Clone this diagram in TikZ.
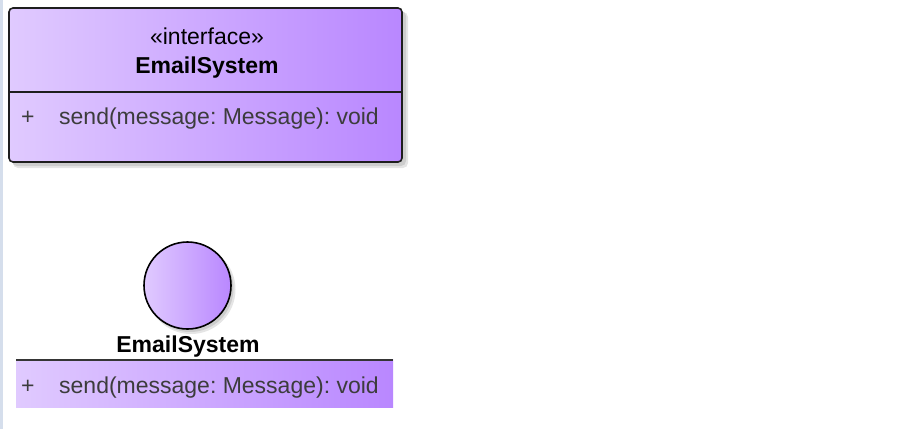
\documentclass[tikz,border=0pt]{standalone}
\usepackage{fontspec}
\setmainfont{Liberation Sans}
\frenchspacing
\definecolor{lavL}{RGB}{224,202,255}
\definecolor{lavR}{RGB}{185,135,255}
\definecolor{stripc}{RGB}{213,222,236}
\definecolor{optext}{RGB}{60,60,60}
\definecolor{edge}{RGB}{30,30,30}
\tikzset{
  lavfill/.style={left color=lavL, right color=lavR},
  txt/.style={inner sep=0pt, anchor=base, font=\fontsize{23}{27}\selectfont},
  optxt/.style={inner sep=0pt, anchor=base west, text=optext, font=\fontsize{23}{27}\selectfont},
  shadowa/.style={fill=black, opacity=0.10},
}
\begin{document}
\begin{tikzpicture}[x=1pt,y=-1pt]
\useasboundingbox (0,0) rectangle (916,429);
\fill[white] (0,0) rectangle (916,429);
\fill[stripc] (0,0) rectangle (3,429);
% class box shadow
\fill[shadowa, rounded corners=5pt] (13,12) rectangle (408,168);
\fill[shadowa, rounded corners=5pt] (12,11) rectangle (406,166);
% class box
\node[draw=edge, line width=1.6pt, rounded corners=4pt, lavfill,
      minimum width=393pt, minimum height=154pt, inner sep=0pt] (box) at (205.5,85) {};
\coordinate (dl) at (9,92);
\coordinate (dr) at (402,92);
\draw[edge, line width=1.6pt] (dl) -- (dr);
\node[txt] (stereo) at (207,44.5) {«interface»};
\node[txt, font=\fontsize{23}{27}\selectfont\bfseries] (cname) at (207,73) {EmailSystem};
\node[optxt] (plus1) at (21,124) {+};
\node[optxt] (op1) at (59,124) {send(message: Message): void};
% lollipop
\fill[shadowa] (191,289.5) circle (44.5pt);
\fill[shadowa] (190,288.5) circle (43.5pt);
\node[circle, draw=black, line width=1.6pt, lavfill, minimum size=87pt, inner sep=0pt] (ball) at (187.5,285.5) {};
\node[txt, font=\fontsize{23}{27}\selectfont\bfseries] (iname) at (188,352) {EmailSystem};
\node[lavfill, minimum width=377pt, minimum height=48pt, inner sep=0pt] (band) at (204.5,383) {};
\coordinate (bl) at (16,359.5);
\coordinate (br) at (393,359.5);
\draw[edge!90!white, line width=2pt] (bl) -- (br);
\node[optxt] (plus2) at (21,393) {+};
\node[optxt] (op2) at (59,393) {send(message: Message): void};
\end{tikzpicture}
\end{document}
